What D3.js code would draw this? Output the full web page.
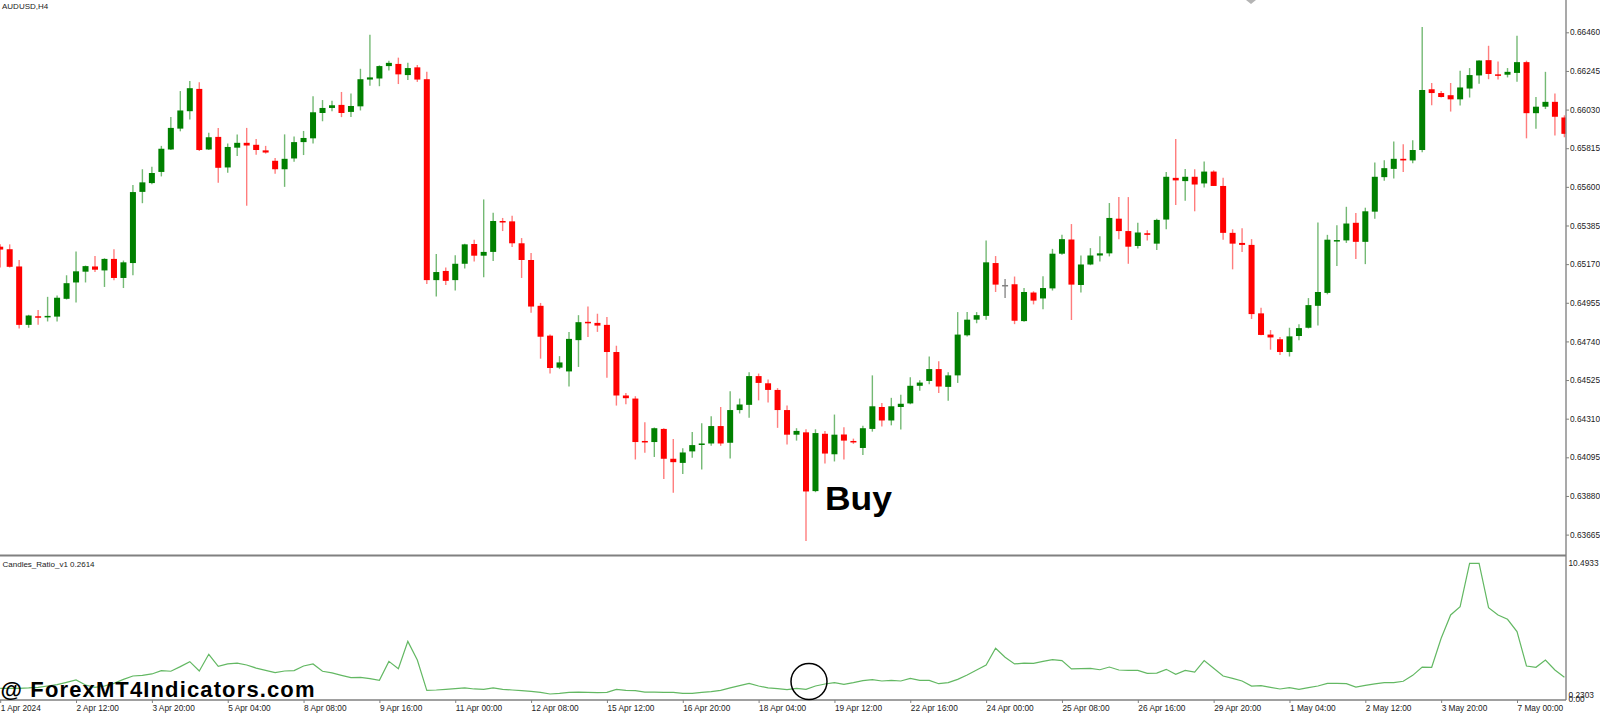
<!DOCTYPE html>
<html>
<head>
<meta charset="utf-8">
<script src="https://cdn.jsdelivr.net/npm/d3@7"></script>
<style>
  body { margin: 0; background: #fff; }
  svg text { font-family: "Liberation Sans", Arial, sans-serif; }
</style>
</head>
<body>
<div id="chart"></div>
<script>
// AUDUSD H4 candles, one entry per bar (bar 0 = 1 Apr 2024 00:00)
var openP = [
  0.65267,0.65253,0.65157,0.64832,0.64880,0.64878,0.64878,0.64977,0.65068,0.65128,
  0.65157,0.65135,0.65199,0.65093,0.65176,0.65572,0.65621,0.65683,0.65808,0.65924,
  0.66021,0.66145,0.65808,0.65878,0.65708,0.65818,0.65845,0.65834,0.65803,0.65745,
  0.65698,0.65758,0.65849,0.65870,0.66011,0.66039,0.66056,0.66017,0.66048,0.66197,
  0.66203,0.66272,0.66284,0.66222,0.66265,0.66199,0.65081,0.65132,0.65081,0.65172,
  0.65282,0.65217,0.65238,0.65410,0.65408,0.65286,0.65193,0.64938,0.64772,0.64594,
  0.64573,0.64747,0.64849,0.64843,0.64832,0.64681,0.64439,0.64422,0.64186,0.64180,
  0.64253,0.64087,0.64064,0.64128,0.64165,0.64172,0.64269,0.64176,0.64358,0.64387,
  0.64547,0.64507,0.64470,0.64358,0.64221,0.64234,0.63907,0.64226,0.64112,0.64222,
  0.64186,0.64147,0.64253,0.64375,0.64300,0.64375,0.64395,0.64493,0.64520,0.64586,
  0.64487,0.64551,0.64774,0.64861,0.64882,0.65176,0.65054,0.65058,0.64853,0.65012,
  0.64979,0.65035,0.65228,0.65307,0.65054,0.65168,0.65218,0.65230,0.65423,0.65354,
  0.65271,0.65342,0.65284,0.65418,0.65650,0.65632,0.65656,0.65619,0.65685,0.65605,
  0.65344,0.65288,0.65277,0.64896,0.64778,0.64752,0.64681,0.64770,0.64816,0.64938,
  0.65010,0.65298,0.65302,0.65400,0.65294,0.65462,0.65654,0.65700,0.65756,0.65747,
  0.65805,0.66143,0.66122,0.66110,0.66087,0.66147,0.66220,0.66305,0.66226,0.66224,
  0.66234,0.66294,0.66010,0.66046,0.66073,0.65986
];
var highP = [
  0.65280,0.65280,0.65193,0.64888,0.64915,0.64988,0.64996,0.65108,0.65240,0.65162,
  0.65215,0.65203,0.65253,0.65190,0.65611,0.65698,0.65712,0.65828,0.65988,0.66133,
  0.66189,0.66182,0.65901,0.65928,0.65841,0.65892,0.65928,0.65866,0.65828,0.65760,
  0.65892,0.65880,0.65911,0.66104,0.66083,0.66079,0.66128,0.66120,0.66257,0.66447,
  0.66276,0.66302,0.66319,0.66290,0.66278,0.66240,0.65226,0.65151,0.65220,0.65284,
  0.65306,0.65530,0.65456,0.65427,0.65439,0.65315,0.65232,0.64954,0.64778,0.64658,
  0.64793,0.64886,0.64934,0.64894,0.64876,0.64716,0.64453,0.64435,0.64290,0.64261,
  0.64257,0.64197,0.64145,0.64236,0.64284,0.64323,0.64375,0.64462,0.64422,0.64569,
  0.64561,0.64528,0.64480,0.64383,0.64257,0.64251,0.64251,0.64242,0.64333,0.64263,
  0.64199,0.64271,0.64551,0.64397,0.64426,0.64443,0.64540,0.64524,0.64656,0.64629,
  0.64569,0.64903,0.64903,0.64903,0.65302,0.65215,0.65087,0.65101,0.65037,0.65019,
  0.65103,0.65255,0.65333,0.65393,0.65218,0.65259,0.65325,0.65510,0.65543,0.65543,
  0.65400,0.65358,0.65422,0.65683,0.65866,0.65700,0.65698,0.65741,0.65692,0.65650,
  0.65364,0.65369,0.65309,0.64927,0.64803,0.64764,0.64816,0.64836,0.64981,0.65402,
  0.65333,0.65387,0.65489,0.65455,0.65484,0.65735,0.65748,0.65853,0.65837,0.65859,
  0.66489,0.66178,0.66133,0.66178,0.66246,0.66261,0.66305,0.66385,0.66298,0.66261,
  0.66441,0.66302,0.66100,0.66240,0.66120,0.65998
];
var lowP = [
  0.65151,0.65151,0.64812,0.64816,0.64832,0.64851,0.64851,0.64973,0.64957,0.65068,
  0.65126,0.65043,0.65081,0.65037,0.65108,0.65509,0.65615,0.65658,0.65805,0.65909,
  0.65975,0.65799,0.65805,0.65623,0.65679,0.65772,0.65495,0.65779,0.65785,0.65673,
  0.65600,0.65739,0.65777,0.65841,0.65965,0.66021,0.65988,0.65988,0.66025,0.66162,
  0.66160,0.66247,0.66172,0.66195,0.66184,0.65060,0.64990,0.65054,0.65023,0.65145,
  0.65184,0.65097,0.65188,0.65354,0.65265,0.65093,0.64899,0.64644,0.64561,0.64586,
  0.64489,0.64598,0.64764,0.64793,0.64538,0.64383,0.64391,0.64083,0.64120,0.64097,
  0.63975,0.63898,0.64002,0.64093,0.64027,0.64159,0.64159,0.64089,0.64339,0.64315,
  0.64412,0.64400,0.64259,0.64166,0.64188,0.63629,0.63901,0.64060,0.64072,0.64083,
  0.64170,0.64108,0.64238,0.64267,0.64273,0.64250,0.64391,0.64466,0.64501,0.64453,
  0.64410,0.64509,0.64768,0.64841,0.64861,0.65015,0.64981,0.64836,0.64849,0.64946,
  0.64919,0.65023,0.65222,0.64859,0.65012,0.65164,0.65184,0.65213,0.65309,0.65172,
  0.65257,0.65302,0.65248,0.65364,0.65499,0.65522,0.65464,0.65596,0.65605,0.65306,
  0.65141,0.65238,0.64865,0.64774,0.64694,0.64664,0.64656,0.64747,0.64812,0.64828,
  0.65002,0.65159,0.65288,0.65199,0.65170,0.65422,0.65634,0.65646,0.65683,0.65731,
  0.65793,0.66054,0.66097,0.66019,0.66052,0.66097,0.66174,0.66199,0.66197,0.66209,
  0.66185,0.65870,0.65924,0.66033,0.65886,0.65876
];
var closeP = [
  0.65251,0.65155,0.64832,0.64884,0.64874,0.64882,0.64983,0.65064,0.65130,0.65159,
  0.65139,0.65199,0.65093,0.65180,0.65571,0.65625,0.65677,0.65812,0.65928,0.66025,
  0.66149,0.65805,0.65876,0.65706,0.65822,0.65845,0.65830,0.65805,0.65791,0.65698,
  0.65756,0.65849,0.65872,0.66015,0.66039,0.66054,0.66011,0.66050,0.66199,0.66209,
  0.66272,0.66290,0.66226,0.66261,0.66197,0.65081,0.65126,0.65077,0.65172,0.65280,
  0.65217,0.65238,0.65410,0.65402,0.65286,0.65193,0.64934,0.64766,0.64592,0.64623,
  0.64754,0.64847,0.64841,0.64828,0.64681,0.64439,0.64424,0.64180,0.64178,0.64257,
  0.64087,0.64068,0.64122,0.64163,0.64172,0.64269,0.64172,0.64358,0.64389,0.64547,
  0.64509,0.64470,0.64358,0.64221,0.64242,0.63905,0.64230,0.64116,0.64221,0.64188,
  0.64178,0.64257,0.64379,0.64300,0.64379,0.64393,0.64493,0.64511,0.64586,0.64489,
  0.64551,0.64778,0.64861,0.64886,0.65180,0.65056,0.65054,0.64855,0.65015,0.64967,
  0.65037,0.65228,0.65309,0.65056,0.65168,0.65218,0.65230,0.65427,0.65354,0.65267,
  0.65346,0.65333,0.65416,0.65656,0.65636,0.65656,0.65613,0.65685,0.65605,0.65344,
  0.65284,0.65277,0.64892,0.64776,0.64762,0.64681,0.64768,0.64814,0.64942,0.65015,
  0.65306,0.65304,0.65396,0.65294,0.65464,0.65656,0.65704,0.65756,0.65747,0.65805,
  0.66139,0.66122,0.66100,0.66087,0.66153,0.66222,0.66303,0.66228,0.66218,0.66240,
  0.66294,0.66010,0.66046,0.66073,0.65990,0.65895
];

// Candles_Ratio_v1 value per bar
var ratio = [
  0.75,0.75,0.75,0.78,0.83,0.93,1.04,1.22,1.40,1.01,
  0.83,0.93,1.14,1.45,1.71,1.76,1.87,2.13,2.08,2.44,
  2.83,2.10,3.40,2.46,2.65,2.72,2.57,2.33,2.15,1.97,
  2.10,2.13,2.49,2.65,2.08,1.95,1.76,1.58,1.61,1.50,
  1.37,2.85,2.28,4.41,2.96,0.59,0.62,0.67,0.72,0.78,
  0.70,0.67,0.78,0.67,0.62,0.57,0.52,0.44,0.31,0.36,
  0.44,0.46,0.44,0.41,0.44,0.67,0.59,0.57,0.46,0.46,
  0.44,0.44,0.36,0.36,0.44,0.49,0.59,0.78,0.96,1.14,
  0.93,0.78,0.72,0.65,0.75,0.67,0.93,1.09,1.19,1.06,
  1.19,1.35,1.43,1.32,1.37,1.32,1.53,1.37,1.37,1.11,
  1.19,1.45,1.79,2.18,2.57,3.87,3.17,2.65,2.72,2.70,
  2.85,2.98,2.91,2.26,2.28,2.31,2.20,2.41,2.18,2.15,
  2.15,1.92,1.94,2.23,1.84,2.15,2.02,2.91,2.31,1.71,
  1.53,1.32,0.93,0.96,0.83,0.70,0.80,0.67,0.80,0.93,
  1.14,1.14,1.11,0.85,0.98,1.09,1.19,1.19,1.30,1.76,
  2.41,2.39,4.65,6.47,7.11,10.49,10.49,7.04,6.47,6.13,
  5.17,2.49,2.39,2.96,2.18,1.61
];

// axis labels
var priceTicks = [0.66460,0.66245,0.66030,0.65815,0.65600,0.65385,0.65170,
                  0.64955,0.64740,0.64525,0.64310,0.64095,0.63880,0.63665];
var ratioTicks = [10.4933, 0.2303, 0.00];
var timeLabels = ["1 Apr 2024","2 Apr 12:00","3 Apr 20:00","5 Apr 04:00","8 Apr 08:00",
  "9 Apr 16:00","11 Apr 00:00","12 Apr 08:00","15 Apr 12:00","16 Apr 20:00","18 Apr 04:00",
  "19 Apr 12:00","22 Apr 16:00","24 Apr 00:00","25 Apr 08:00","26 Apr 16:00","29 Apr 20:00",
  "1 May 04:00","2 May 12:00","3 May 20:00","7 May 00:00"];
var labelEvery = 8; // bars between time labels

var W = 1600, H = 715;
var plotRight = 1566, mainBottom = 555.5, indBottom = 700;
var nBars = openP.length;

var svg = d3.select("#chart").append("svg")
    .attr("width", W).attr("height", H);
svg.append("rect").attr("width", W).attr("height", H).style("fill", "#fff");

// scales
var xScale = d3.scaleLinear().domain([0, nBars - 1]).range([0.2, 0.2 + 9.48 * (nBars - 1)]);
var yPrice = d3.scaleLinear().domain([0.63665, 0.66460]).range([534.6, 32.3]);
var yInd = d3.scaleLinear().domain([ratioTicks[1], ratioTicks[0]]).range([695, 563.3]);

// clip regions
var defs = svg.append("defs");
defs.append("clipPath").attr("id", "clipMain")
  .append("rect").attr("width", plotRight).attr("height", mainBottom - 1);
defs.append("clipPath").attr("id", "clipInd")
  .append("rect").attr("y", mainBottom + 1).attr("width", plotRight).attr("height", indBottom - mainBottom - 1);

// candles
var gMain = svg.append("g").attr("clip-path", "url(#clipMain)");
var bars = d3.range(nBars);
function isBull(i) { return closeP[i] > openP[i]; }
function isDoji(i) { return closeP[i] == openP[i]; }

gMain.selectAll("line.wick").data(bars).enter().append("line")
  .attr("class", "wick")
  .attr("x1", function(i) { return xScale(i); }).attr("x2", function(i) { return xScale(i); })
  .attr("y1", function(i) { return yPrice(highP[i]); })
  .attr("y2", function(i) { return yPrice(lowP[i]); })
  .style("stroke", function(i) { return isDoji(i) ? "#8a8a8a" : (isBull(i) ? "#74b974" : "#ff7d7d"); })
  .style("stroke-width", 1.4);

gMain.selectAll("rect.body").data(bars).enter().append("rect")
  .attr("class", "body")
  .attr("x", function(i) { return xScale(i) - 3; })
  .attr("width", 6)
  .attr("y", function(i) { return yPrice(Math.max(openP[i], closeP[i])); })
  .attr("height", function(i) {
    return Math.max(1.5, yPrice(Math.min(openP[i], closeP[i])) - yPrice(Math.max(openP[i], closeP[i])));
  })
  .style("fill", function(i) { return isDoji(i) ? "#808080" : (isBull(i) ? "#008000" : "#ff0000"); });

// indicator line
var gInd = svg.append("g").attr("clip-path", "url(#clipInd)");
var line = d3.line()
  .x(function(d, i) { return xScale(i); })
  .y(function(d) { return yInd(d); });
gInd.append("path").datum(ratio)
  .attr("d", line)
  .style("fill", "none").style("stroke", "#63b863").style("stroke-width", 1.2);

// frame lines
svg.append("line").attr("x1", plotRight).attr("x2", plotRight).attr("y1", 0).attr("y2", indBottom)
  .style("stroke", "#8c8c8c").style("stroke-width", 1.5);
svg.append("line").attr("x1", 0).attr("x2", plotRight).attr("y1", mainBottom).attr("y2", mainBottom)
  .style("stroke", "#808080").style("stroke-width", 2);
svg.append("line").attr("x1", 0).attr("x2", plotRight).attr("y1", indBottom).attr("y2", indBottom)
  .style("stroke", "#808080").style("stroke-width", 1.5);

// price axis
var yAxis = d3.axisRight(yPrice).tickValues(priceTicks).tickSize(3).tickPadding(1)
  .tickFormat(d3.format(".5f"));
var gy = svg.append("g").attr("transform", "translate(" + plotRight + ",0)").call(yAxis);
gy.select(".domain").remove();
gy.selectAll("line").style("stroke", "#808080");
gy.selectAll("text").attr("font-size", "8.3px").attr("font-family", "Liberation Sans, Arial, sans-serif")
  .style("fill", "#222");

// indicator scale labels (the two bottom ones overlap in the original too)
svg.selectAll("text.indLab").data(ratioTicks).enter().append("text")
  .attr("class", "indLab")
  .attr("x", plotRight + 2.5)
  .attr("y", function(d) { return d == 0 ? yInd(d) + 1 : yInd(d); })
  .attr("dy", "0.32em")
  .style("font-size", "8.3px").style("fill", "#222")
  .text(function(d) { return d == 0 ? "0.00" : d3.format(".4f")(d); });

// time axis
var xAxis = d3.axisBottom(xScale)
  .tickValues(timeLabels.map(function(d, i) { return i * labelEvery; }))
  .tickSize(3).tickPadding(2)
  .tickFormat(function(d, i) { return timeLabels[i]; });
var gx = svg.append("g").attr("transform", "translate(0," + indBottom + ")").call(xAxis);
gx.select(".domain").remove();
gx.selectAll("line").style("stroke", "#808080");
gx.selectAll("text").attr("text-anchor", "start").attr("x", 0)
  .attr("font-size", "8.3px").attr("font-family", "Liberation Sans, Arial, sans-serif")
  .style("fill", "#222");

// window titles
svg.append("text").attr("x", 2).attr("y", 9)
  .style("font-size", "8px").style("fill", "#222").text("AUDUSD,H4");
svg.append("text").attr("x", 2.5).attr("y", 566.5)
  .style("font-size", "8px").style("fill", "#222").text("Candles_Ratio_v1 0.2614");

// chart shift marker
svg.append("path").attr("d", "M1246,0 L1256,0 L1251,4 Z").style("fill", "#b4b4b4");

// annotations
svg.append("text").attr("x", 825).attr("y", 510.3)
  .attr("textLength", 67).attr("lengthAdjust", "spacingAndGlyphs")
  .style("font-size", "34px").style("font-weight", "bold").style("fill", "#000")
  .text("Buy");
svg.append("circle").attr("cx", 809).attr("cy", 681.5).attr("r", 18)
  .style("fill", "none").style("stroke", "#000").style("stroke-width", 1.5);
svg.append("text").attr("x", 0.5).attr("y", 697.3)
  .attr("textLength", 314).attr("lengthAdjust", "spacing")
  .style("font-size", "22px").style("font-weight", "bold").style("fill", "#000")
  .text("@ ForexMT4Indicators.com");
</script>
</body>
</html>
